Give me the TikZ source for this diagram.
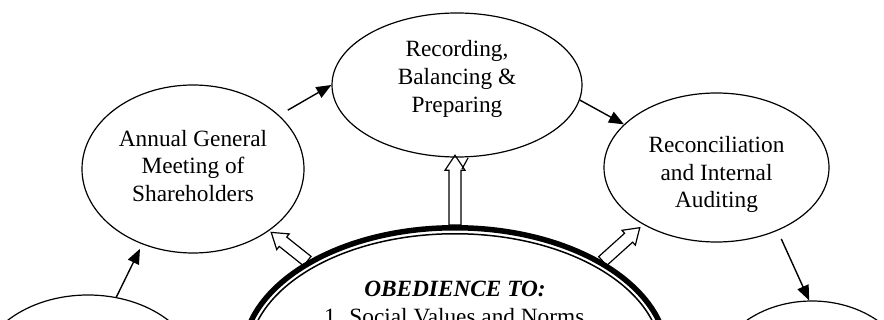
\documentclass[tikz,border=0pt]{standalone}
\usepackage{fontspec}
\setmainfont{Liberation Serif}
\usetikzlibrary{arrows.meta,shapes.geometric}
\pgfdeclarelayer{bg}
\pgfsetlayers{bg,main}
\begin{document}
\begin{tikzpicture}[x=1pt,y=-1pt,
  oval/.style={ellipse, draw, line width=1.2pt, inner sep=0pt},
  txt/.style={align=center, font=\fontsize{23.3}{27.8}\selectfont, inner sep=0pt},
  arr/.style={line width=1.4pt, -{Triangle[length=15pt,width=12pt]}},
  blk/.style={draw, fill=white, line width=1.2pt, line join=miter},
  pics/blockarrow/.style={code={\draw[blk] (0,-6) -- ({#1-15},-6) -- ({#1-15},-10) -- (#1,0) -- ({#1-15},10) -- ({#1-15},6) -- (0,6) -- cycle;}}
]
\useasboundingbox (0,0) rectangle (884,320);
\clip (0,0) rectangle (884,320);

% ellipses
\node[oval, minimum width=222pt, minimum height=168pt] (agm) at (193,169) {};
\node[oval, minimum width=250pt, minimum height=144pt] (rec) at (457,85) {};
\node[oval, minimum width=225pt, minimum height=149pt] (recon) at (716.5,167.5) {};
\node[oval, minimum width=220pt, minimum height=160pt] (bl) at (88,375) {};
\node[oval, minimum width=200pt, minimum height=160pt] (br) at (812,381) {};

% texts
\node[txt] (agmt) at (193,166) {Annual General\\Meeting of\\Shareholders};
\node[txt] (rect) at (457,79) {Recording,\\Balancing \&\\Preparing};
\node[txt] (recont) at (716.5,174.5) {Reconciliation\\and Internal\\Auditing};

% central ellipse
\node[ellipse, draw, line width=5.5pt, minimum width=424.5pt, minimum height=258.5pt, inner sep=0pt] (big) at (455,357) {};
\draw[line width=1.5pt] (big.center) ellipse [x radius=206.25, y radius=123.25];
\node[font=\fontsize{23.3}{28}\selectfont\bfseries\itshape, anchor=base, inner sep=0pt] (obh) at (455,297) {OBEDIENCE TO:};
\node[txt, anchor=base west] (ob1) at (324,325) {1. Social Values and Norms};

% block arrows
\begin{pgfonlayer}{bg}
\pic[rotate=90] at (big.north) {blockarrow=69.75};
\pic[rotate=141.5] at (big.147.6) {blockarrow=46.1};
\pic[rotate=42] at (big.33.8) {blockarrow=49.9};
\end{pgfonlayer}
\coordinate (tA) at (468,158);
\coordinate (tB) at (462,169);
\draw[line width=1.2pt] (tA) -- (tB);

% connectors
\draw[arr, shorten >=5pt] (bl.70.5) -- (agm.-124.8);
\draw[arr, shorten <=10pt] (agm.32.8) -- (rec.west);
\draw[arr] (rec.-7.1) -- (recon.155.2);
\draw[arr, shorten <=9pt] (recon.-46.7) -- (br.92);
\end{tikzpicture}
\end{document}
